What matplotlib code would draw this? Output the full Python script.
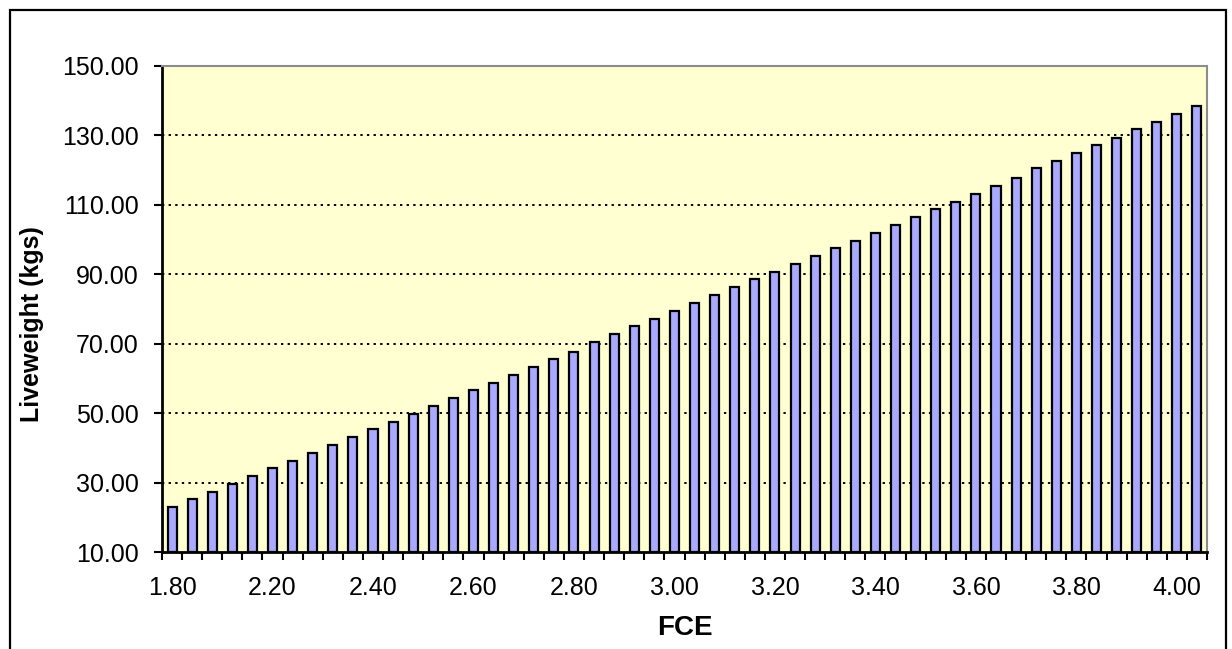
import matplotlib
matplotlib.use("Agg")
import matplotlib.pyplot as plt
from matplotlib.patches import Rectangle
from matplotlib.ticker import FixedLocator, FixedFormatter, NullFormatter

# Liveweight reached for each FCE step (kgs)
liveweight = [
    22.9, 25.2, 27.3, 29.6, 31.8, 34.1, 36.3, 38.6, 40.8, 43.1,
    45.3, 47.5, 49.8, 52.1, 54.3, 56.6, 58.8, 61.0, 63.3, 65.5,
    67.7, 70.6, 72.8, 75.0, 77.2, 79.5, 81.7, 84.0, 86.3, 88.6,
    90.8, 93.0, 95.3, 97.5, 99.7, 102.0, 104.2, 106.4, 108.7, 110.9,
    113.1, 115.4, 117.7, 120.5, 122.7, 125.0, 127.2, 129.4, 131.8, 134.0,
    136.2, 138.5,
]
# FCE labels shown along the category axis (every fifth category)
fce_tick_labels = ["1.80", "2.20", "2.40", "2.60", "2.80", "3.00",
                   "3.20", "3.40", "3.60", "3.80", "4.00"]
label_every = 5
y_ticks = [10, 30, 50, 70, 90, 110, 130, 150]

W, H = 1232, 649
fig = plt.figure(figsize=(W / 100, H / 100), dpi=100)
fig.patch.set_facecolor("white")

font = "Liberation Sans"

ax = fig.add_axes([162 / W, (H - 552) / H, (1207 - 162) / W, (552 - 66) / H])
ax.set_facecolor("#FFFFD2")

n = len(liveweight)
x = list(range(n))
ax.bar(x, [v - 10 for v in liveweight], bottom=10, width=0.45,
       color="#A9A9FF", edgecolor="black", linewidth=1.6, zorder=3)

ax.set_xlim(-0.5, n - 0.5)
ax.set_ylim(10, 150)

# y axis
ax.set_yticks(y_ticks)
ax.set_yticklabels([f"{v:.2f}" for v in y_ticks], fontsize=18, family=font)
ax.tick_params(axis="y", direction="out", length=6, width=1.5, pad=11, color="black")
for v in y_ticks[1:-1]:
    ax.axhline(v, color="black", linestyle=(0, (1.2, 2.2)), linewidth=1.4, zorder=1)

# x axis: tick marks between categories, labels every fifth category
ax.xaxis.set_major_locator(FixedLocator([i * label_every for i in range(len(fce_tick_labels))]))
ax.xaxis.set_major_formatter(FixedFormatter(fce_tick_labels))
ax.xaxis.set_minor_locator(FixedLocator([i - 0.5 for i in range(n + 1)]))
ax.xaxis.set_minor_formatter(NullFormatter())
ax.tick_params(axis="x", which="major", length=0, pad=17, labelsize=18)
ax.tick_params(axis="x", which="minor", direction="out", length=6, width=1.5, color="black")
for lab in ax.get_xticklabels():
    lab.set_family(font)

for side in ("left", "bottom"):
    ax.spines[side].set_color("black")
    ax.spines[side].set_linewidth(2)
for side in ("top", "right"):
    ax.spines[side].set_color("#8C8C8C")
    ax.spines[side].set_linewidth(1.5)

ax.set_xlabel("FCE", fontsize=20, fontweight="bold", family=font, labelpad=11)
ax.set_ylabel("Liveweight (kgs)", fontsize=18, fontweight="bold", family=font)
ax.yaxis.set_label_coords(-0.113, 0.47)

# chart frame
fig.add_artist(Rectangle((10 / W, -0.05), (1226 - 10) / W, (H - 10) / H + 0.05,
                         transform=fig.transFigure, fill=False,
                         edgecolor="black", linewidth=1.6))

fig.savefig("out.png", dpi=100, facecolor="white")
